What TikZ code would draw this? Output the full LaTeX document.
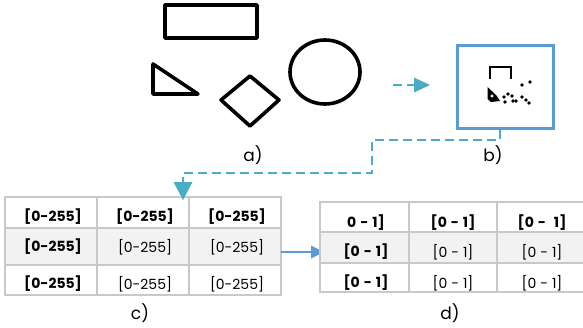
\documentclass[tikz,border=0pt]{standalone}
\usepackage{fontspec}
\setmainfont{Poppins}
\usetikzlibrary{arrows.meta}
\definecolor{teal1}{RGB}{75,172,198}
\definecolor{blue1}{RGB}{91,155,213}
\definecolor{gridc}{RGB}{200,200,200}
\definecolor{rowc}{RGB}{242,242,242}
\newcommand{\gp}{\hspace{4pt}}
\tikzset{
  shp/.style={draw=black, line width=3.6pt, line join=round},
  lbl/.style={font=\fontsize{17}{19}\selectfont, inner sep=0pt},
  cellb/.style={font=\fontsize{14}{16}\selectfont\bfseries, inner sep=0pt},
  celln/.style={font=\fontsize{14}{16}\selectfont, inner sep=0pt},
  grid/.style={draw=gridc, line width=1.4pt},
  dashc/.style={draw=teal1, line width=2.4pt, dash pattern=on 9pt off 5pt},
}
\begin{document}
\begin{tikzpicture}[x=1pt,y=-1pt]
\useasboundingbox (0,0) rectangle (583,327);
% shapes of a)
\node[shp, minimum width=92pt, minimum height=33pt, inner sep=0pt] (rect) at (211,21.5) {};
\draw[shp] (153,64) -- (153,94) -- (198,94) -- cycle;
\coordinate (tri) at (168,84);
\draw[shp] (250,76) -- (279,100) -- (250,126) -- (221,100) -- cycle;
\coordinate (dia) at (250,100);
\draw[shp] (325,72) ellipse [x radius=35, y radius=32];
\coordinate (circ) at (325,72);
\node[lbl] (la) at (253,155) {a)};
% dashed arrow to b
\coordinate (d1s) at (393,85);
\coordinate (d1e) at (430,85);
\draw[dashc] (d1s) -- (415,85);
\fill[teal1] (d1e) -- (414,77.5) -- (414,92.5) -- cycle;
% box b)
\node[draw=blue1, line width=2.4pt, minimum width=96pt, minimum height=83pt, inner sep=0pt] (bbox) at (505.5,87) {};
\draw[line width=2.2pt] (490,79) -- (490,67) -- (511,67) -- (511,79);
\fill (487.5,87) -- (496,95) -- (500,101) -- (491,102) -- (487.5,99) -- cycle;
\fill[white] (492,96) circle (1.6);
\foreach \p in {(508,94),(504,97),(505,102),(512,96),(516,101),(522,85),(530,82),(522,97),(526,100),(529,103),(513,101)}
  \fill \p circle (1.8);
\node[lbl] (lb) at (493,155) {b)};
% dashed connector b -> c
\coordinate (k1) at (500,140);
\coordinate (k2) at (372,140);
\coordinate (k3) at (372,173);
\coordinate (k4) at (183,173);
\coordinate (tipc) at (183,200);
\draw[dashc] (bbox.south -| k1) -- (k1) -- (k2) -- (k3) -- (k4) -- (183,184);
% table c)
\fill[rowc] (5,228) rectangle (281,265);
\draw[grid] (5,197) rectangle (281,295);
\draw[grid] (5,228) -- (281,228) (5,265) -- (281,265);
\draw[grid] (97,197) -- (97,295) (189,197) -- (189,295);
\fill[teal1] (tipc) -- (173.5,182) -- (192.5,182) -- cycle;
\node[cellb] (c11) at (53,217) {[0-255]};
\node[cellb] (c12) at (145,217) {[0-255]};
\node[cellb] (c13) at (237,217) {[0-255]};
\node[cellb] (c21) at (53,247) {[0-255]};
\node[celln] (c22) at (145,247) {[0-255]};
\node[celln] (c23) at (237,247) {[0-255]};
\node[cellb] (c31) at (53,284) {[0-255]};
\node[celln] (c32) at (145,284) {[0-255]};
\node[celln] (c33) at (237,284) {[0-255]};
\node[lbl] (lc) at (140,313) {c)};
% arrow c -> d
\coordinate (ae) at (324,252);
\draw[blue1, line width=1.2pt] (281,252) -- (312,252);
\fill[blue1] (ae) -- (311,245.5) -- (311,258.5) -- cycle;
% table d)
\fill[rowc] (320,232) rectangle (583,263);
\draw[grid] (583,202) -- (320,202) -- (320,292) -- (583,292);
\draw[grid] (320,232) -- (583,232) (320,263) -- (583,263);
\draw[grid] (409,202) -- (409,292) (497,202) -- (497,292);
\node[cellb] (d11) at (366,223) {0\gp-\gp1]};
\node[cellb] (d12) at (453,223) {[0\gp-\gp1]};
\node[cellb] (d13) at (542,223) {[0\gp-\gp\gp1]};
\node[cellb] (d21) at (366,252) {[0\gp-\gp1]};
\node[celln] (d22) at (453,252) {[0\gp-\gp1]};
\node[celln] (d23) at (542,252) {[0\gp-\gp1]};
\node[cellb] (d31) at (366,283) {[0\gp-\gp1]};
\node[celln] (d32) at (453,283) {[0\gp-\gp1]};
\node[celln] (d33) at (542,283) {[0\gp-\gp1]};
\node[lbl] (ld) at (450,313) {d)};
\end{tikzpicture}
\end{document}
